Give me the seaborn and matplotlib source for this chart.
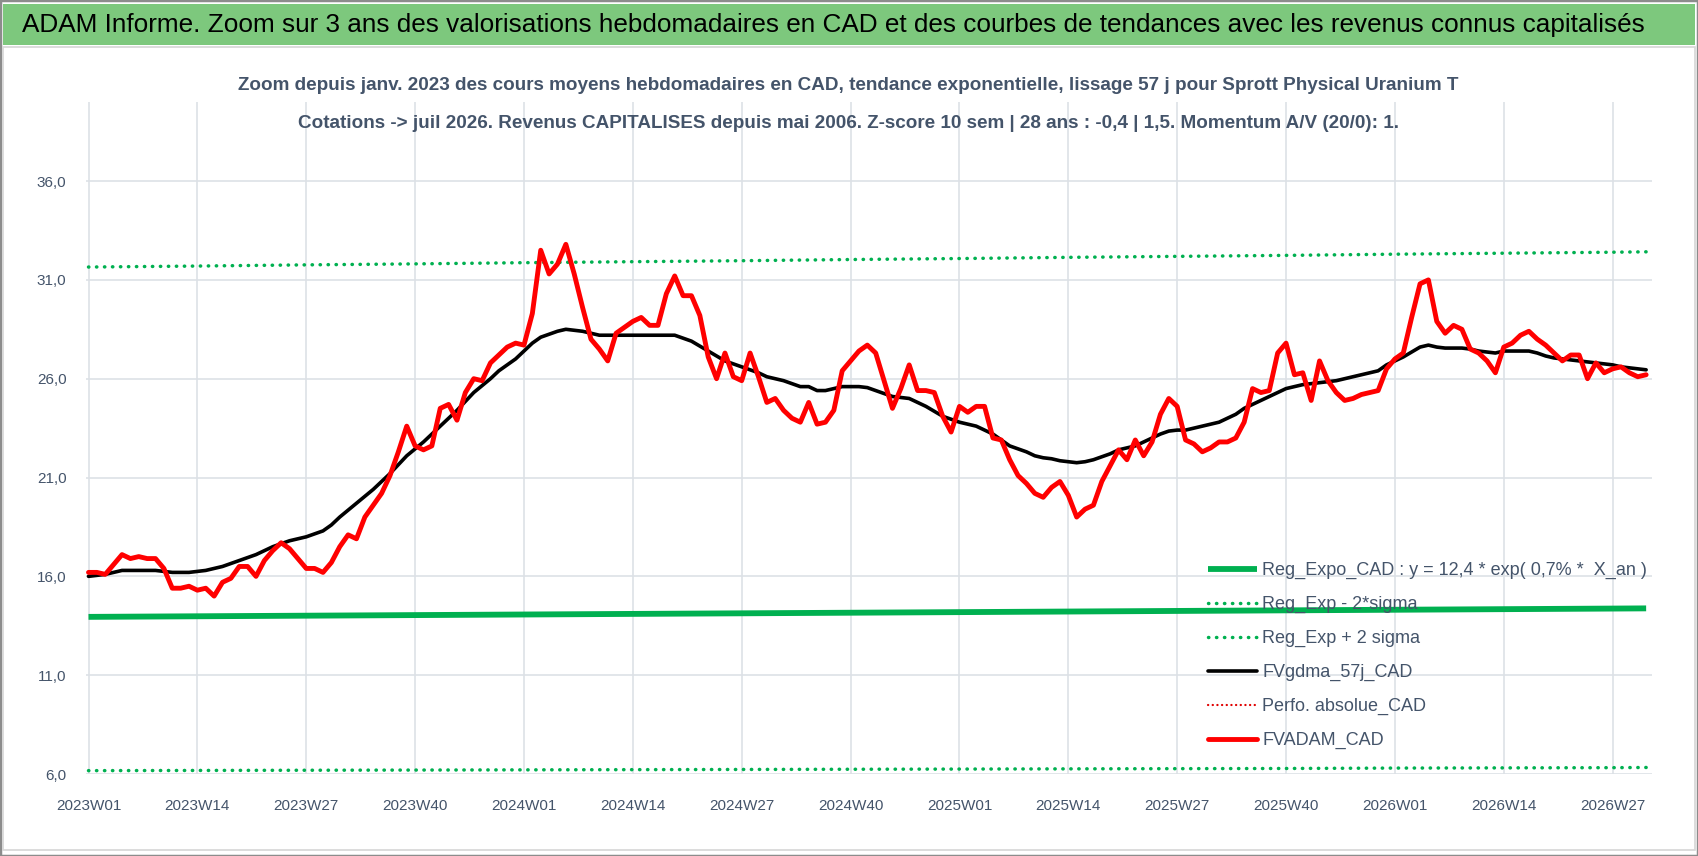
import matplotlib
matplotlib.use('Agg')
import matplotlib.pyplot as plt
from matplotlib.lines import Line2D
from matplotlib.patches import Rectangle
import pandas as pd
import seaborn as sns

TITLE = ("ADAM Informe. Zoom sur 3 ans des valorisations hebdomadaires en CAD "
         "et des courbes de tendances avec les revenus connus capitalisés")
SUB1 = ("Zoom depuis janv. 2023 des cours moyens hebdomadaires en CAD, tendance exponentielle, "
        "lissage 57 j pour Sprott Physical Uranium T")
SUB2 = ("Cotations -> juil 2026. Revenus CAPITALISES depuis mai 2006. "
        "Z-score 10 sem | 28 ans : -0,4 | 1,5. Momentum A/V (20/0): 1.")

tick_labels = ['2023W01', '2023W14', '2023W27', '2023W40', '2024W01', '2024W14', '2024W27',
               '2024W40', '2025W01', '2025W14', '2025W27', '2025W40', '2026W01', '2026W14',
               '2026W27']
tick_weeks = [0, 13, 26, 39, 52, 65, 78, 91, 104, 117, 130, 143, 156, 169, 182]
y_ticks = [6, 11, 16, 21, 26, 31, 36]

# weekly values, 2023W01 .. 2026W31
fvadam_cad = [
    16.2, 16.2, 16.1, 16.6, 17.1, 16.9, 17.0, 16.9, 16.9, 16.4,
    15.4, 15.4, 15.5, 15.3, 15.4, 15.0, 15.7, 15.9, 16.5, 16.5,
    16.0, 16.8, 17.3, 17.7, 17.4, 16.9, 16.4, 16.4, 16.2, 16.7,
    17.5, 18.1, 17.9, 19.0, 19.6, 20.2, 21.1, 22.3, 23.6, 22.6,
    22.4, 22.6, 24.5, 24.7, 23.9, 25.3, 26.0, 25.9, 26.8, 27.2,
    27.6, 27.8, 27.7, 29.3, 32.5, 31.3, 31.8, 32.8, 31.3, 29.6,
    28.0, 27.5, 26.9, 28.3, 28.6, 28.9, 29.1, 28.7, 28.7, 30.3,
    31.2, 30.2, 30.2, 29.2, 27.1, 26.0, 27.3, 26.1, 25.9, 27.3,
    26.1, 24.8, 25.0, 24.4, 24.0, 23.8, 24.8, 23.7, 23.8, 24.4,
    26.4, 26.9, 27.4, 27.7, 27.3, 25.9, 24.5, 25.5, 26.7, 25.4,
    25.4, 25.3, 24.1, 23.3, 24.6, 24.3, 24.6, 24.6, 23.0, 22.9,
    21.9, 21.1, 20.7, 20.2, 20.0, 20.5, 20.8, 20.1, 19.0, 19.4,
    19.6, 20.8, 21.6, 22.4, 21.9, 22.9, 22.1, 22.8, 24.2, 25.0,
    24.6, 22.9, 22.7, 22.3, 22.5, 22.8, 22.8, 23.0, 23.8, 25.5,
    25.3, 25.4, 27.3, 27.8, 26.2, 26.3, 24.9, 26.9, 25.9, 25.3,
    24.9, 25.0, 25.2, 25.3, 25.4, 26.5, 27.0, 27.3, 29.1, 30.8,
    31.0, 28.9, 28.3, 28.7, 28.5, 27.5, 27.3, 26.9, 26.3, 27.6,
    27.8, 28.2, 28.4, 28.0, 27.7, 27.3, 26.9, 27.2, 27.2, 26.0,
    26.8, 26.3, 26.5, 26.6, 26.3, 26.1, 26.2,
]
fvgdma_57j_cad = [
    16.0, 16.05, 16.1, 16.2, 16.3, 16.3, 16.3, 16.3, 16.3, 16.25,
    16.2, 16.2, 16.2, 16.25, 16.3, 16.4, 16.5, 16.65, 16.8, 16.95,
    17.1, 17.3, 17.5, 17.65, 17.8, 17.9, 18.0, 18.15, 18.3, 18.6,
    19.0, 19.35, 19.7, 20.05, 20.4, 20.8, 21.2, 21.65, 22.1, 22.45,
    22.8, 23.2, 23.6, 24.0, 24.4, 24.85, 25.3, 25.65, 26.0, 26.4,
    26.7, 27.0, 27.4, 27.8, 28.1, 28.25, 28.4, 28.5, 28.45, 28.4,
    28.3, 28.2, 28.2, 28.2, 28.2, 28.2, 28.2, 28.2, 28.2, 28.2,
    28.2, 28.05, 27.9, 27.65, 27.4, 27.15, 26.9, 26.75, 26.6, 26.45,
    26.3, 26.1, 26.0, 25.9, 25.75, 25.6, 25.6, 25.4, 25.4, 25.5,
    25.6, 25.6, 25.6, 25.55, 25.4, 25.25, 25.1, 25.05, 25.0, 24.8,
    24.6, 24.35, 24.1, 23.95, 23.8, 23.7, 23.6, 23.4, 23.2, 22.9,
    22.6, 22.45, 22.3, 22.1, 22.0, 21.95, 21.85, 21.8, 21.75, 21.8,
    21.9, 22.05, 22.2, 22.4, 22.5, 22.6, 22.8, 23.0, 23.2, 23.35,
    23.4, 23.4, 23.5, 23.6, 23.7, 23.8, 24.0, 24.2, 24.5, 24.7,
    24.9, 25.1, 25.3, 25.5, 25.6, 25.7, 25.75, 25.8, 25.85, 25.9,
    26.0, 26.1, 26.2, 26.3, 26.4, 26.7, 26.9, 27.1, 27.35, 27.6,
    27.7, 27.6, 27.55, 27.55, 27.55, 27.5, 27.4, 27.35, 27.3, 27.4,
    27.4, 27.4, 27.4, 27.3, 27.15, 27.05, 27.0, 26.95, 26.9, 26.85,
    26.8, 26.75, 26.7, 26.6, 26.55, 26.5, 26.45,
]

# trend curves read at the labelled weeks and at the last week
trend_weeks = [0, 13, 26, 39, 52, 65, 78, 91, 104, 117, 130, 143, 156, 169, 182, 186]
reg_expo_cad = [13.95, 13.98, 14.01, 14.04, 14.07, 14.10, 14.13, 14.16,
                14.19, 14.22, 14.25, 14.28, 14.31, 14.34, 14.37, 14.38]
reg_exp_minus = [6.17, 6.18, 6.19, 6.20, 6.21, 6.22, 6.23, 6.24,
                 6.25, 6.26, 6.27, 6.28, 6.30, 6.31, 6.32, 6.33]
reg_exp_plus = [31.65, 31.70, 31.76, 31.81, 31.87, 31.92, 31.97, 32.03,
                32.08, 32.14, 32.19, 32.24, 32.30, 32.35, 32.40, 32.42]

weekly = pd.DataFrame({'week': range(len(fvadam_cad)),
                       'FVADAM_CAD': fvadam_cad,
                       'FVgdma_57j_CAD': fvgdma_57j_cad})
trend = pd.DataFrame({'week': trend_weeks, 'expo': reg_expo_cad,
                      'minus': reg_exp_minus, 'plus': reg_exp_plus})

sns.set_theme(style='white')
plt.rcParams['font.family'] = ['Liberation Sans', 'DejaVu Sans']

GREEN = '#00B050'
SLATE = '#44546A'
W, H = 1698, 856

fig = plt.figure(figsize=(W / 100, H / 100), dpi=100)
fig.patches.append(Rectangle((0, 0), 1, 1, transform=fig.transFigure, fill=False,
                             edgecolor='#8C8C8C', lw=2.5, zorder=0))
fig.patches.append(Rectangle((3 / W, 1 - 45 / H), 1 - 6 / W, 41 / H, transform=fig.transFigure,
                             facecolor='#7DC87D', edgecolor='none', zorder=0))
fig.patches.append(Rectangle((3 / W, 6 / H), 1 - 6 / W, 1 - 53 / H, transform=fig.transFigure,
                             fill=False, edgecolor='#D6D6D6', lw=1.2, zorder=0))
fig.text(22 / W, 1 - 25 / H, TITLE, fontsize=18.8, ha='left', va='center', color='black')
fig.text(848 / W, 1 - 86 / H, SUB1, fontsize=13.6, fontweight='bold', ha='center',
         va='center', color=SLATE)
fig.text(848 / W, 1 - 123 / H, SUB2, fontsize=13.6, fontweight='bold', ha='center',
         va='center', color=SLATE)

ax = fig.add_axes([86 / W, 1 - 774 / H, (1652 - 86) / W, (774 - 102) / H])
ax.set_facecolor('none')

dot = (0, (0.1, 2.2))
sns.lineplot(data=trend, x='week', y='expo', ax=ax, color=GREEN, lw=4.2,
             solid_capstyle='butt')
sns.lineplot(data=trend, x='week', y='minus', ax=ax, color=GREEN, lw=2.5,
             linestyle=dot, dash_capstyle='round')
sns.lineplot(data=trend, x='week', y='plus', ax=ax, color=GREEN, lw=2.5,
             linestyle=dot, dash_capstyle='round')
sns.lineplot(data=weekly, x='week', y='FVgdma_57j_CAD', ax=ax, color='black', lw=2.6)
sns.lineplot(data=weekly, x='week', y='FVADAM_CAD', ax=ax, color='#FF0000', lw=3.5)

ax.set_xlim(-0.3, len(fvadam_cad) - 0.3)
ax.set_ylim(6, 40)
ax.set_xticks(tick_weeks)
ax.set_xticklabels(tick_labels)
ax.set_yticks(y_ticks)
ax.set_yticklabels([f'{v:.1f}'.replace('.', ',') for v in y_ticks])
ax.set_xlabel('')
ax.set_ylabel('')
ax.grid(True, color='#DDE1E6', lw=1.2)
ax.set_axisbelow(True)
for s in ax.spines.values():
    s.set_visible(False)
ax.tick_params(axis='x', length=0, pad=18, labelsize=11, labelcolor=SLATE)
ax.tick_params(axis='y', length=0, pad=14, labelsize=11, labelcolor=SLATE)

lines = ax.get_lines()
perfo = Line2D([], [], color='#E00000', lw=1.6, linestyle=(0, (0.1, 2.0)),
               dash_capstyle='round')
handles = [lines[0], lines[1], lines[2], lines[3], perfo, lines[4]]
labels = ['Reg_Expo_CAD : y = 12,4 * exp( 0,7% *  X_an )', 'Reg_Exp - 2*sigma',
          'Reg_Exp + 2 sigma', 'FVgdma_57j_CAD', 'Perfo. absolue_CAD', 'FVADAM_CAD']
leg = ax.legend(handles, labels, loc='upper left', bbox_to_anchor=(1208 / W, 1 - 562 / H),
                bbox_transform=fig.transFigure, frameon=False, fontsize=13,
                handlelength=2.7, handletextpad=0.3, labelspacing=0.93, borderpad=0,
                borderaxespad=0)
for t in leg.get_texts():
    t.set_color(SLATE)

fig.savefig('out.png', dpi=100)
